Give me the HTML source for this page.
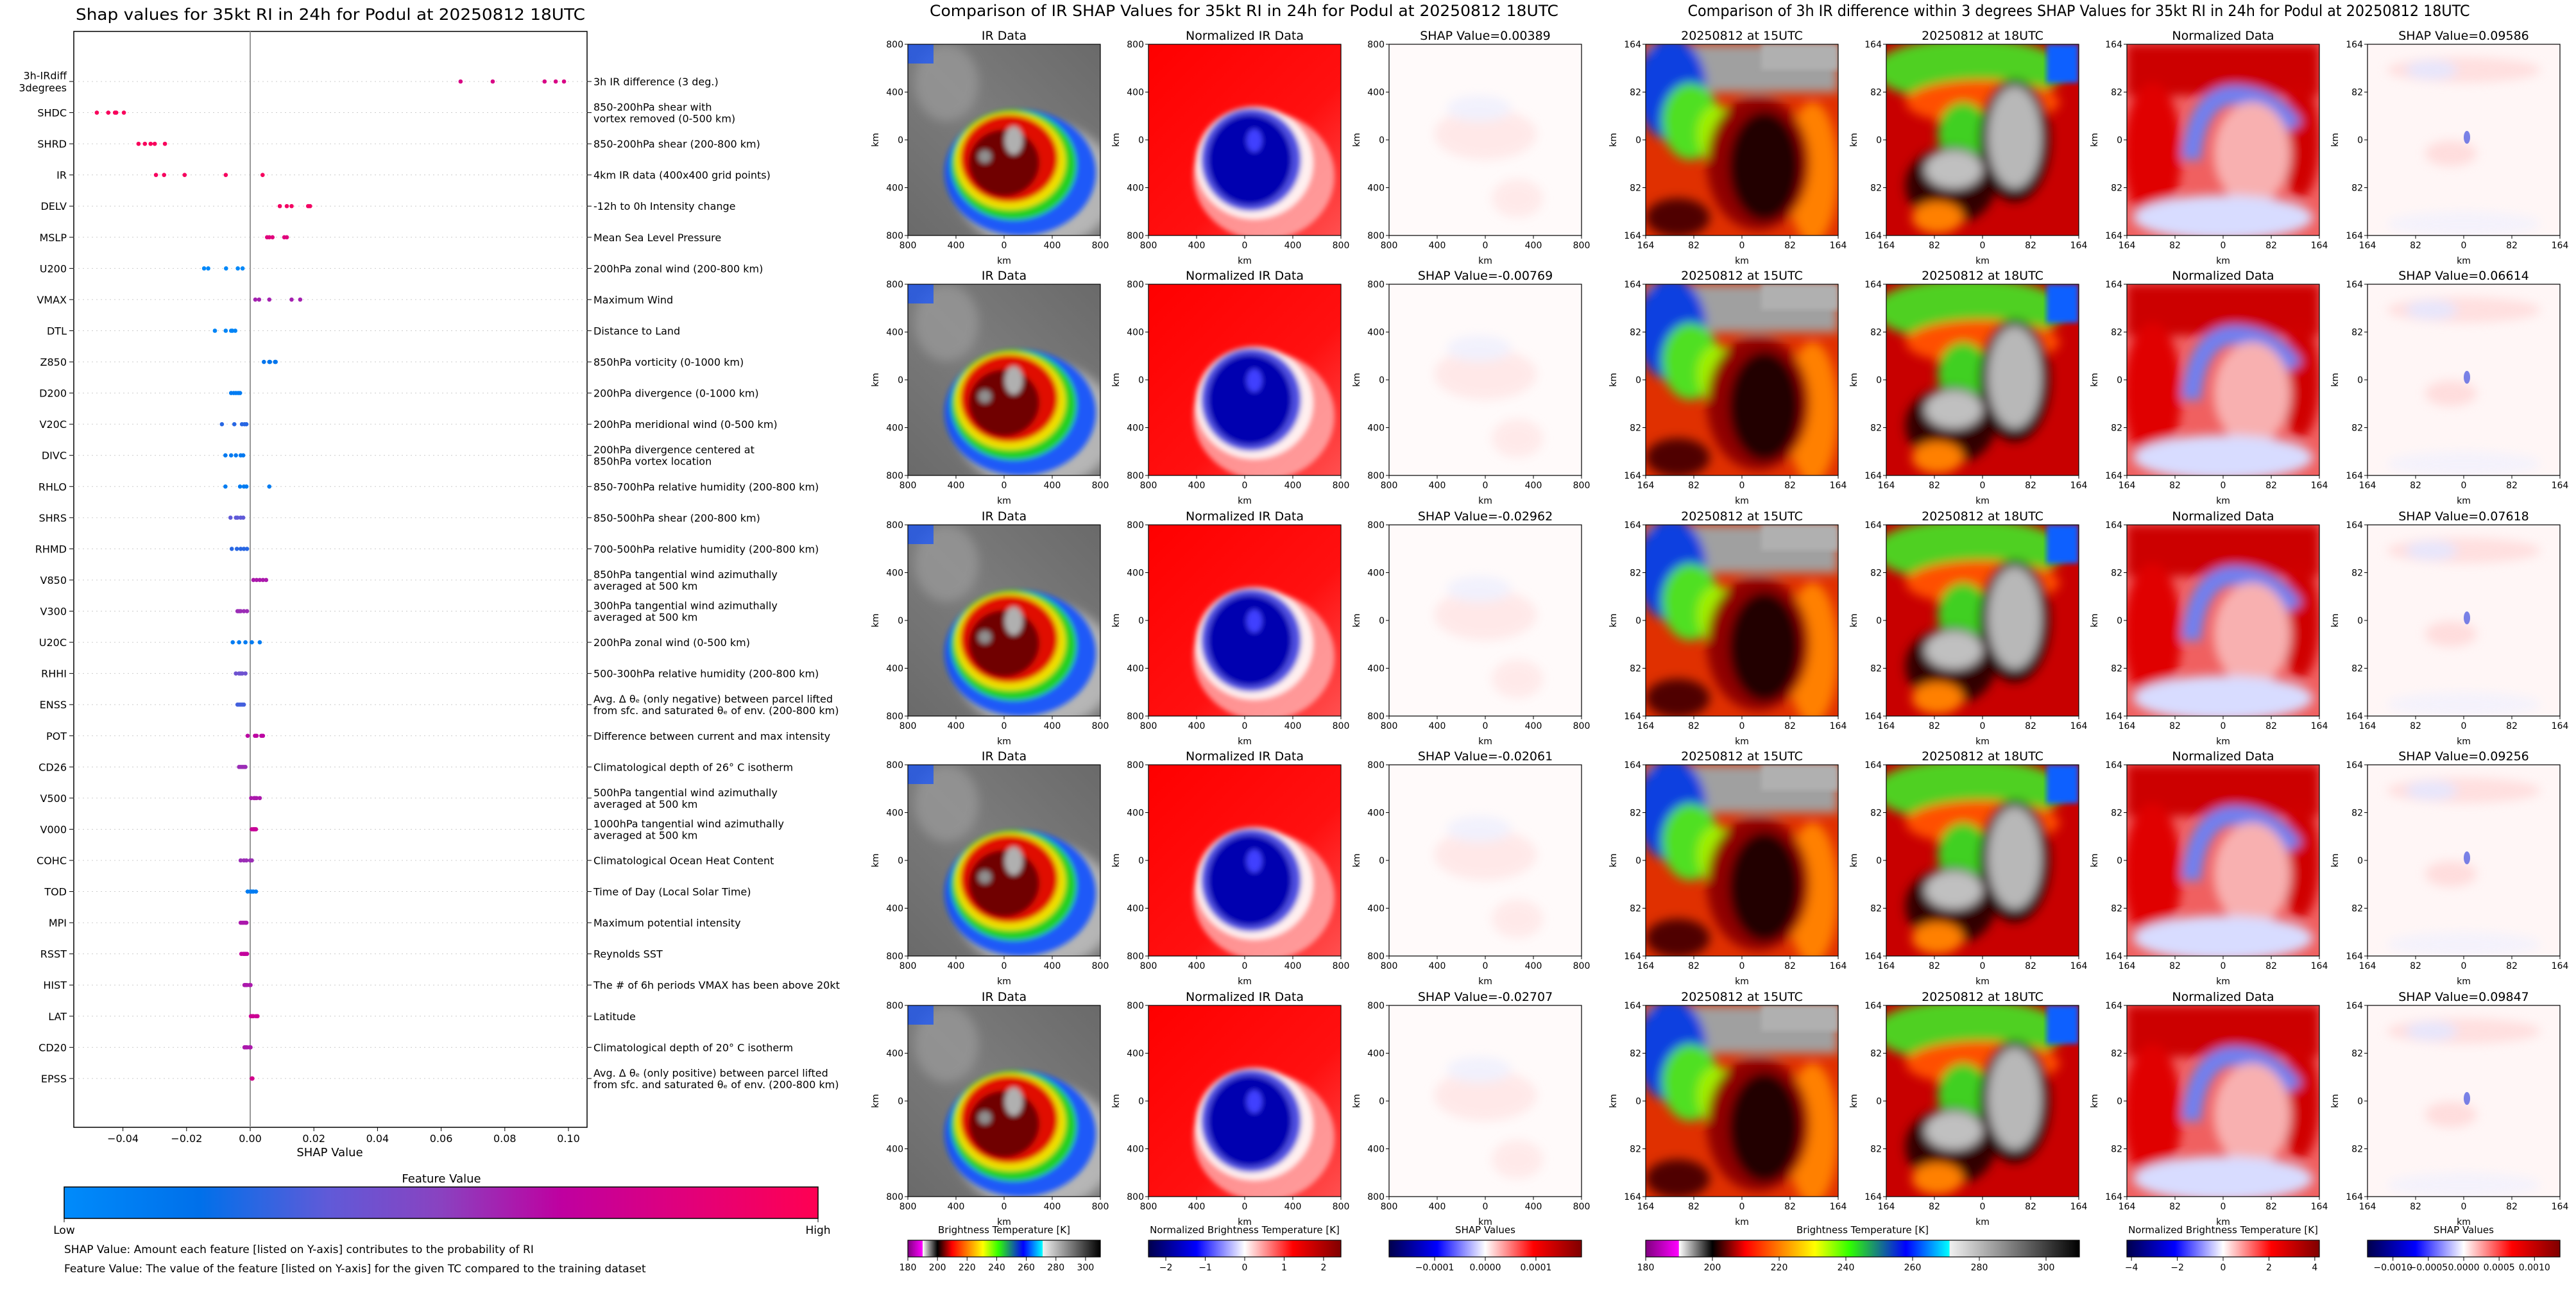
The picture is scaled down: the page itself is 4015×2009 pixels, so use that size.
<!DOCTYPE html>
<html><head><meta charset="utf-8">
<style>
html,body{margin:0;padding:0;background:#fff;}
svg{display:block;font-family:"DejaVu Sans","Liberation Sans",sans-serif;}
</style></head>
<body>
<svg id="fig" width="4015" height="2009" viewBox="0 0 4015 2009" xmlns="http://www.w3.org/2000/svg">
<defs>
  <linearGradient id="g-feat" x1="0" x2="1" y1="0" y2="0">
    <stop offset="0" stop-color="#008bfb"/><stop offset="0.18" stop-color="#0070ea"/>
    <stop offset="0.35" stop-color="#605ad8"/><stop offset="0.5" stop-color="#8a42c0"/>
    <stop offset="0.66" stop-color="#bf00a0"/><stop offset="0.82" stop-color="#e0007c"/>
    <stop offset="1" stop-color="#ff0052"/>
  </linearGradient>
  <linearGradient id="g-bt" x1="0" x2="1" y1="0" y2="0">
    <stop offset="0" stop-color="#800080"/><stop offset="0.076" stop-color="#ff00ff"/>
    <stop offset="0.077" stop-color="#ffffff"/><stop offset="0.154" stop-color="#000000"/>
    <stop offset="0.23" stop-color="#ff0000"/><stop offset="0.31" stop-color="#ff8000"/>
    <stop offset="0.39" stop-color="#ffff00"/><stop offset="0.47" stop-color="#30ff00"/>
    <stop offset="0.6" stop-color="#0000ff"/><stop offset="0.7" stop-color="#00ffff"/>
    <stop offset="0.701" stop-color="#f0f0f0"/><stop offset="1" stop-color="#000000"/>
  </linearGradient>
  <linearGradient id="g-seis" x1="0" x2="1" y1="0" y2="0">
    <stop offset="0" stop-color="#00004c"/><stop offset="0.25" stop-color="#0000ff"/>
    <stop offset="0.5" stop-color="#ffffff"/><stop offset="0.75" stop-color="#ff0000"/>
    <stop offset="1" stop-color="#800000"/>
  </linearGradient>
  <linearGradient id="g-gray" x1="0" x2="1" y1="1" y2="0">
    <stop offset="0" stop-color="#6a6a6a"/><stop offset="0.5" stop-color="#7c7c7c"/><stop offset="1" stop-color="#6a6a6a"/>
  </linearGradient>
  <linearGradient id="g-redfade" x1="0" x2="1" y1="0" y2="1">
    <stop offset="0" stop-color="#ff0000"/><stop offset="0.6" stop-color="#ff1010"/><stop offset="1" stop-color="#ff5050"/>
  </linearGradient>
  <filter id="blur4"><feGaussianBlur stdDeviation="4"/></filter>
  <filter id="blur8"><feGaussianBlur stdDeviation="8"/></filter>
  <filter id="blur14"><feGaussianBlur stdDeviation="14"/></filter>
  <clipPath id="clip-panel"><rect x="0" y="0" width="300" height="298"/></clipPath>

  <g id="img-ir">
    <rect width="300" height="298" fill="url(#g-gray)"/>
    <g filter="url(#blur8)">
      <ellipse cx="60" cy="60" rx="50" ry="60" fill="#a0a0a0" opacity="0.6"/>
      <ellipse cx="200" cy="220" rx="125" ry="100" fill="#cfcfcf" opacity="0.7"/>
    </g>
    <g filter="url(#blur4)">
      <ellipse cx="175" cy="200" rx="118" ry="98" fill="#1050ff" opacity="0.9"/>
      <ellipse cx="165" cy="188" rx="98" ry="86" fill="#20d020"/>
      <ellipse cx="160" cy="182" rx="86" ry="76" fill="#f0e000"/>
      <ellipse cx="158" cy="178" rx="76" ry="68" fill="#e01000"/>
      <ellipse cx="150" cy="185" rx="55" ry="52" fill="#700000"/>
      <ellipse cx="165" cy="150" rx="14" ry="22" fill="#b0b0b0"/>
      <ellipse cx="120" cy="175" rx="10" ry="10" fill="#909090"/>
    </g>
    <rect x="0" y="0" width="40" height="30" fill="#1050ff" opacity="0.7"/>
  </g>
  <g id="img-nir">
    <rect width="300" height="298" fill="url(#g-redfade)"/>
    <g filter="url(#blur4)">
      <ellipse cx="180" cy="205" rx="110" ry="100" fill="#ffb0b0" opacity="0.8"/>
      <ellipse cx="165" cy="185" rx="92" ry="88" fill="#ffffff" opacity="0.85"/>
      <ellipse cx="160" cy="180" rx="78" ry="80" fill="#5050e0"/>
      <ellipse cx="158" cy="180" rx="65" ry="70" fill="#0000b0"/>
      <ellipse cx="165" cy="150" rx="12" ry="18" fill="#4040ff"/>
    </g>
  </g>
  <g id="img-shap-ir">
    <rect width="300" height="298" fill="#fffafa"/>
    <g filter="url(#blur8)" opacity="0.5">
      <ellipse cx="150" cy="140" rx="80" ry="40" fill="#ffd8d8"/>
      <ellipse cx="200" cy="240" rx="40" ry="30" fill="#ffdada"/>
      <ellipse cx="140" cy="100" rx="50" ry="20" fill="#e4e8ff"/>
    </g>
  </g>
  <g id="img-15">
    <rect width="300" height="298" fill="#e03000"/>
    <g filter="url(#blur8)">
      <rect x="0" y="0" width="300" height="75" fill="#a0a0a0"/>
      <ellipse cx="40" cy="70" rx="55" ry="80" fill="#1040e0"/>
      <ellipse cx="70" cy="120" rx="45" ry="60" fill="#50e020"/>
      <ellipse cx="110" cy="140" rx="30" ry="45" fill="#a0f000"/>
      <ellipse cx="260" cy="200" rx="40" ry="110" fill="#ff8000"/>
      <ellipse cx="175" cy="185" rx="80" ry="105" fill="#900000"/>
      <ellipse cx="185" cy="190" rx="55" ry="85" fill="#200000"/>
      <ellipse cx="50" cy="270" rx="50" ry="30" fill="#500000"/>
    </g>
    <rect x="180" y="0" width="120" height="40" fill="#b0b0b0" filter="url(#blur4)"/>
  </g>
  <g id="img-18">
    <rect width="300" height="298" fill="#c80000"/>
    <g filter="url(#blur8)">
      <ellipse cx="130" cy="40" rx="150" ry="50" fill="#50d020"/>
      <ellipse cx="150" cy="90" rx="120" ry="35" fill="#ff5000"/>
      <ellipse cx="120" cy="140" rx="40" ry="50" fill="#40d020"/>
      <ellipse cx="100" cy="220" rx="70" ry="60" fill="#300000"/>
      <ellipse cx="200" cy="150" rx="55" ry="95" fill="#200000"/>
      <ellipse cx="200" cy="145" rx="42" ry="80" fill="#b8b8b8"/>
      <ellipse cx="105" cy="195" rx="45" ry="30" fill="#c0c0c0"/>
      <ellipse cx="80" cy="270" rx="40" ry="25" fill="#ff8000"/>
    </g>
    <rect x="250" y="0" width="50" height="60" fill="#1060ff" filter="url(#blur4)"/>
  </g>
  <g id="img-norm">
    <rect width="300" height="298" fill="#f06060"/>
    <g filter="url(#blur8)">
      <rect x="0" y="0" width="300" height="80" fill="#cc0000"/>
      <ellipse cx="40" cy="170" rx="45" ry="110" fill="#e00000"/>
      <ellipse cx="270" cy="150" rx="30" ry="90" fill="#d00000"/>
      <path d="M100 180 Q110 70 180 80 Q230 85 260 130" stroke="#7080f0" stroke-width="30" fill="none"/>
      <ellipse cx="195" cy="170" rx="60" ry="80" fill="#f8b0b0"/>
      <ellipse cx="150" cy="270" rx="140" ry="35" fill="#d8dcff"/>
    </g>
  </g>
  <g id="img-shap-3h">
    <rect width="300" height="298" fill="#fff6f6"/>
    <g filter="url(#blur8)" opacity="0.6">
      <ellipse cx="150" cy="40" rx="120" ry="20" fill="#ffd0d0"/>
      <ellipse cx="100" cy="40" rx="40" ry="15" fill="#d8dcff"/>
      <ellipse cx="130" cy="170" rx="40" ry="20" fill="#ffcccc"/>
      <ellipse cx="150" cy="280" rx="120" ry="20" fill="#eef0ff"/>
    </g>
    <ellipse cx="155" cy="145" rx="5" ry="10" fill="#4050e0" opacity="0.7"/>
  </g>
</defs>

<text x="515" y="31" font-size="25" text-anchor="middle" textLength="794" lengthAdjust="spacingAndGlyphs">Shap values for 35kt RI in 24h for Podul at 20250812 18UTC</text>
<g id="left-chart"></g>
<text x="514" y="1802" font-size="18" text-anchor="middle">SHAP Value</text>
<text x="688" y="1843" font-size="18" text-anchor="middle">Feature Value</text>
<rect x="100" y="1850" width="1175" height="49" fill="url(#g-feat)" stroke="#000" stroke-width="1.5"/>
<line x1="100" y1="1899" x2="100" y2="1905" stroke="#000"/>
<line x1="1275" y1="1899" x2="1275" y2="1905" stroke="#000"/>
<text x="100" y="1923" font-size="17" text-anchor="middle">Low</text>
<text x="1275" y="1923" font-size="17" text-anchor="middle">High</text>
<text x="100" y="1953" font-size="17">SHAP Value: Amount each feature [listed on Y-axis] contributes to the probability of RI</text>
<text x="100" y="1983" font-size="17">Feature Value: The value of the feature [listed on Y-axis] for the given TC compared to the training dataset</text>

<text x="1939" y="25" font-size="24" text-anchor="middle" textLength="980" lengthAdjust="spacingAndGlyphs">Comparison of IR SHAP Values for 35kt RI in 24h for Podul at 20250812 18UTC</text>
<text x="3240" y="25" font-size="24" text-anchor="middle" textLength="1219" lengthAdjust="spacingAndGlyphs">Comparison of 3h IR difference within 3 degrees SHAP Values for 35kt RI in 24h for Podul at 20250812 18UTC</text>
<g id="panels"></g>
<g id="cbars"></g>
</svg>

<script>
const featureCodes = ["3h-IRdiff\n3degrees","SHDC","SHRD","IR","DELV","MSLP","U200","VMAX","DTL","Z850","D200","V20C","DIVC","RHLO","SHRS","RHMD","V850","V300","U20C","RHHI","ENSS","POT","CD26","V500","V000","COHC","TOD","MPI","RSST","HIST","LAT","CD20","EPSS"];
const featureDescriptions = [
"3h IR difference (3 deg.)","850-200hPa shear with\nvortex removed (0-500 km)","850-200hPa shear (200-800 km)","4km IR data (400x400 grid points)","-12h to 0h Intensity change","Mean Sea Level Pressure","200hPa zonal wind (200-800 km)","Maximum Wind","Distance to Land","850hPa vorticity (0-1000 km)","200hPa divergence (0-1000 km)","200hPa meridional wind (0-500 km)","200hPa divergence centered at\n850hPa vortex location","850-700hPa relative humidity (200-800 km)","850-500hPa shear (200-800 km)","700-500hPa relative humidity (200-800 km)","850hPa tangential wind azimuthally\naveraged at 500 km","300hPa tangential wind azimuthally\naveraged at 500 km","200hPa zonal wind (0-500 km)","500-300hPa relative humidity (200-800 km)","Avg. Δ θₑ (only negative) between parcel lifted\nfrom sfc. and saturated θₑ of env. (200-800 km)","Difference between current and max intensity","Climatological depth of 26° C isotherm","500hPa tangential wind azimuthally\naveraged at 500 km","1000hPa tangential wind azimuthally\naveraged at 500 km","Climatological Ocean Heat Content","Time of Day (Local Solar Time)","Maximum potential intensity","Reynolds SST","The # of 6h periods VMAX has been above 20kt","Latitude","Climatological depth of 20° C isotherm","Avg. Δ θₑ (only positive) between parcel lifted\nfrom sfc. and saturated θₑ of env. (200-800 km)"];
const shapValues = [
[0.0661,0.0762,0.0925,0.0960,0.0986],
[-0.0482,-0.0446,-0.0425,-0.0421,-0.0397],
[-0.0351,-0.0331,-0.0313,-0.0300,-0.0268],
[-0.02962,-0.02707,-0.02061,-0.00769,0.00389],
[0.0093,0.0115,0.0130,0.0182,0.0188],
[0.0053,0.0060,0.0070,0.0107,0.0115],
[-0.0145,-0.0132,-0.0076,-0.0039,-0.0024],
[0.0016,0.0028,0.0060,0.0130,0.0157],
[-0.0111,-0.0077,-0.0060,-0.0056,-0.0047],
[0.0043,0.0060,0.0080,0.0078,0.0062],
[-0.0060,-0.0052,-0.0045,-0.0038,-0.0032],
[-0.0089,-0.0050,-0.0026,-0.0012,-0.0018],
[-0.0078,-0.0060,-0.0045,-0.0030,-0.0022],
[-0.0078,-0.0032,-0.0012,0.0060,-0.0020],
[-0.0062,-0.0045,-0.0030,-0.0022,-0.0040],
[-0.0058,-0.0042,-0.0030,-0.0010,-0.0020],
[0.0010,0.0020,0.0030,0.0040,0.0050],
[-0.0040,-0.0030,-0.0010,-0.0020,-0.0035],
[-0.0055,-0.0035,-0.0015,0.0005,0.0030],
[-0.0045,-0.0035,-0.0025,-0.0015,-0.0030],
[-0.0040,-0.0030,-0.0020,-0.0025,-0.0035],
[-0.0008,0.0015,0.0035,0.0040,0.0020],
[-0.0035,-0.0025,-0.0015,-0.0030,-0.0020],
[0.0003,0.0012,0.0020,0.0030,0.0015],
[0.0005,0.0012,0.0018,0.0010,0.0015],
[-0.0030,-0.0012,0.0005,-0.0020,0.0000],
[-0.0008,0.0000,0.0010,0.0018,0.0005],
[-0.0030,-0.0020,-0.0012,-0.0025,-0.0015],
[-0.0028,-0.0018,-0.0010,-0.0022,-0.0015],
[-0.0018,-0.0010,-0.0002,0.0001,-0.0014],
[0.0002,0.0010,0.0018,0.0023,0.0006],
[-0.0018,-0.0010,-0.0002,0.0001,-0.0014],
[0.0005,0.0006,0.0007,0.0006,0.0005]];
const featureLevels = [0.78,0.96,0.96,0.95,0.93,0.82,0.02,0.58,0.05,0.15,0.1,0.25,0.12,0.1,0.35,0.25,0.6,0.55,0.1,0.4,0.3,0.65,0.55,0.6,0.7,0.55,0.1,0.6,0.68,0.6,0.72,0.6,0.75];
const xTicks = [-0.04,-0.02,0.00,0.02,0.04,0.06,0.08,0.10];
const irShapTitles = ["0.00389","-0.00769","-0.02962","-0.02061","-0.02707"];
const diffShapTitles = ["0.09586","0.06614","0.07618","0.09256","0.09847"];
const btTicks = [180,200,220,240,260,280,300];
const normIrTicks = [-2,-1,0,1,2];
const shapIrTicks = [-0.0001,0,0.0001];
const normDiffTicks = [-4,-2,0,2,4];
const shapDiffTicks = [-0.0010,-0.0005,0,0.0005,0.0010];

const NS = "http://www.w3.org/2000/svg";
function mk(tag, parent, attrs){const e=document.createElementNS(NS,tag);for(const k in attrs)e.setAttribute(k,attrs[k]);parent.appendChild(e);return e;}
const stops=[[0,[0,139,251]],[0.18,[0,112,234]],[0.35,[96,90,216]],[0.5,[138,66,192]],[0.66,[191,0,160]],[0.82,[224,0,124]],[1,[255,0,82]]];
function featColor(v){for(let i=1;i<stops.length;i++){if(v<=stops[i][0]){const a=stops[i-1],b=stops[i];const t=(v-a[0])/(b[0]-a[0]);const c=a[1].map((x,j)=>Math.round(x+(b[1][j]-x)*t));return `rgb(${c})`;}}return "rgb(255,0,82)";}

const L=document.getElementById('left-chart');
const AX={l:115,r:915,t:49,b:1757};
const xS=v=>390+v*4960;
const yS=i=>127+i*48.56;
let fr=mk('rect',L,{x:AX.l,y:AX.t,width:AX.r-AX.l,height:AX.b-AX.t,fill:'none',stroke:'#000','stroke-width':1.5});


featureCodes.forEach((code,i)=>{
  const y=yS(i);
  const gl=mk('line',L,{x1:AX.l,x2:AX.r,y1:y,y2:y,stroke:'#ccc','stroke-width':1,'stroke-dasharray':'2,5'});
  
  
  mk('line',L,{x1:AX.l-7,x2:AX.l,y1:y,y2:y,stroke:'#000'});
  mk('line',L,{x1:AX.r,x2:AX.r+7,y1:y,y2:y,stroke:'#000'});
  const parts=code.split('\n');
  parts.forEach((p,k)=>{
    const t=mk('text',L,{x:104,y:y+6+(k-(parts.length-1)/2)*19,'font-size':16,'text-anchor':'end'});
    t.textContent=p;
    
    
  });
  const dparts=featureDescriptions[i].split('\n');
  dparts.forEach((p,k)=>{
    const t=mk('text',L,{x:925,y:y+6+(k-(dparts.length-1)/2)*18,'font-size':16});
    t.textContent=p;
    
    
  });
});
const zl=mk('line',L,{x1:xS(0),x2:xS(0),y1:AX.t,y2:AX.b,stroke:'#999','stroke-width':2});


shapValues.forEach((row,i)=>{
  row.forEach(v=>{
    const c=mk('circle',L,{cx:xS(v),cy:yS(i),r:3.3,fill:featColor(featureLevels[i])});
    
    
  });
});
xTicks.forEach(v=>{
  mk('line',L,{x1:xS(v),x2:xS(v),y1:AX.b,y2:AX.b+6,stroke:'#000'});
  const t=mk('text',L,{x:xS(v),y:AX.b+23,'font-size':16,'text-anchor':'middle'});
  t.textContent=(v<0?'\u2212':'')+Math.abs(v).toFixed(2);
  
  
});

const P=document.getElementById('panels');
const colX=[1415,1790,2165,2565,2940,3315,3690];
const rowY=[69,443,818,1192,1567];
const colImg=['img-ir','img-nir','img-shap-ir','img-15','img-18','img-norm','img-shap-3h'];
const colNames=['ir-data-panel','normalized-ir-panel','ir-shap-panel','ir-15utc-panel','ir-18utc-panel','normalized-diff-panel','diff-shap-panel'];
const irTickLabels=['800','400','0','400','800'];
const kmTickLabels=['164','82','0','82','164'];
rowY.forEach((ry,r)=>{
  colX.forEach((cx,c)=>{
    const g=mk('g',P,{transform:`translate(${cx},${ry})`});
    
    
    const ig=mk('g',g,{'clip-path':'url(#clip-panel)'});
    mk('use',ig,{href:'#'+colImg[c]});
    mk('rect',g,{x:0,y:0,width:300,height:298,fill:'none',stroke:'#000','stroke-width':1.2});
    let title;
    if(c===0) title='IR Data'; else if(c===1) title='Normalized IR Data';
    else if(c===2) title='SHAP Value='+irShapTitles[r];
    else if(c===3) title='20250812 at 15UTC'; else if(c===4) title='20250812 at 18UTC';
    else if(c===5) title='Normalized Data'; else title='SHAP Value='+diffShapTitles[r];
    const tt=mk('text',g,{x:150,y:-7,'font-size':19,'text-anchor':'middle'});
    tt.textContent=title;
    
    
    const labs=c<3?irTickLabels:kmTickLabels;
    labs.forEach((lab,k)=>{
      const px=k*75, py=k*74.5;
      mk('line',g,{x1:px,x2:px,y1:298,y2:303,stroke:'#000'});
      const xt=mk('text',g,{x:px,y:318,'font-size':14,'text-anchor':'middle'});
      xt.textContent=lab;
      
      
      mk('line',g,{x1:-5,x2:0,y1:py,y2:py,stroke:'#000'});
      const yt=mk('text',g,{x:-7,y:py+5,'font-size':14,'text-anchor':'end'});
      yt.textContent=lab;
      
      
    });
    const xl=mk('text',g,{x:150,y:342,'font-size':14,'text-anchor':'middle'});
    xl.textContent='km';
    
    
    const yl=mk('text',g,{x:0,y:0,'font-size':14,'text-anchor':'middle',transform:'translate(-46,149) rotate(-90)'});
    yl.textContent='km';
    
    
  });
});

const C=document.getElementById('cbars');
function colorbar(x0,w,grad,label,ticks,vmin,vmax,fmt,name){
  const g=mk('g',C,{});
  
  
  mk('rect',g,{x:x0,y:1933,width:w,height:26,fill:`url(#${grad})`,stroke:'#000','stroke-width':1.2});
  const lt=mk('text',g,{x:x0+w/2,y:1922,'font-size':15,'text-anchor':'middle'});
  lt.textContent=label;
  
  
  ticks.forEach(v=>{
    const px=x0+(v-vmin)/(vmax-vmin)*w;
    mk('line',g,{x1:px,x2:px,y1:1959,y2:1965,stroke:'#000'});
    const t=mk('text',g,{x:px,y:1980,'font-size':14,'text-anchor':'middle'});
    t.textContent=fmt(v);
    
    
  });
}
const mfmt=(d)=>v=>(v<0?'\u2212':'')+Math.abs(v).toFixed(d);
colorbar(1415,300,'g-bt','Brightness Temperature [K]',btTicks,180,310,v=>String(v),'ir-bt-colorbar');
colorbar(1790,300,'g-seis','Normalized Brightness Temperature [K]',normIrTicks,-2.44,2.44,mfmt(0),'ir-norm-colorbar');
colorbar(2165,300,'g-seis','SHAP Values',shapIrTicks,-0.00019,0.00019,mfmt(4),'ir-shap-colorbar');
colorbar(2565,676,'g-bt','Brightness Temperature [K]',btTicks,180,310,v=>String(v),'diff-bt-colorbar');
colorbar(3315,300,'g-seis','Normalized Brightness Temperature [K]',normDiffTicks,-4.2,4.2,mfmt(0),'diff-norm-colorbar');
colorbar(3690,300,'g-seis','SHAP Values',shapDiffTicks,-0.00136,0.00136,mfmt(4),'diff-shap-colorbar');
</script>
</body></html>
